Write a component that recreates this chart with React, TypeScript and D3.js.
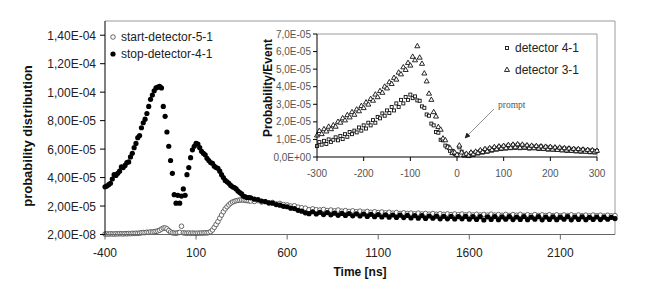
import * as d3 from "d3";

// values in units of 1e-5
// main chart, -400..390 ns in 10 ns bins
const startEarly = [
  0.03, 0.04, 0.03, 0.05, 0.04, 0.03, 0.05, 0.04, 0.06, 0.05,
  0.04, 0.06, 0.05, 0.07, 0.06, 0.08, 0.07, 0.09, 0.08, 0.1,
  0.12, 0.14, 0.13, 0.16, 0.15, 0.18, 0.17, 0.2, 0.22, 0.25,
  0.3, 0.38, 0.45, 0.46, 0.4, 0.28, 0.18, 0.12, 0.1, 0.09,
  0.12, 0.15, 0.58, 0.12, 0.1, 0.09, 0.11, 0.08, 0.1, 0.09,
  0.08, 0.1, 0.09, 0.11, 0.1, 0.12, 0.11, 0.14, 0.2, 0.32,
  0.5, 0.7, 0.9, 1.15, 1.37, 1.6, 1.8, 1.95, 2.08, 2.2,
  2.28, 2.33, 2.37, 2.4, 2.42, 2.43, 2.42, 2.4, 2.38, 2.37,
];
const stopEarly = [
  3.35, 3.4, 3.5, 3.6, 3.9, 4.2, 4.15, 4.3, 4.45, 4.75,
  4.7, 4.85, 5.05, 5.1, 5.45, 5.7, 6.1, 6.4, 6.8, 6.95,
  7.5, 7.85, 8.1, 8.5, 9.0, 9.5, 9.8, 10.1, 10.3, 10.35,
  10.4, 10.3, 9.0, 8.3, 7.2, 6.2, 5.2, 4.3, 2.8, 2.2,
  2.75, 2.2, 2.7, 3.2, 2.75, 4.2, 4.7, 5.4, 5.95, 6.2,
  6.4, 6.35, 6.1, 5.85, 5.7, 5.6, 5.35, 5.2, 5.05, 5.0,
  4.8, 4.7, 4.65, 4.45, 4.2, 4.0, 3.8, 3.7, 3.6, 3.45,
  3.35, 3.3, 3.2, 3.05, 2.95, 2.85, 2.7, 2.65, 2.6, 2.6,
];
// main chart, 400..2400 ns in 20 ns bins
const startTail = [
  2.35, 2.32, 2.38, 2.28, 2.3, 2.22, 2.25, 2.15, 2.18, 2.1,
  2.08, 2.0, 2.02, 1.92, 1.88, 1.85, 1.74, 1.8, 1.74, 1.72,
  1.76, 1.68, 1.72, 1.66, 1.72, 1.64, 1.68, 1.62, 1.66, 1.6,
  1.64, 1.57, 1.62, 1.56, 1.6, 1.54, 1.58, 1.52, 1.56, 1.5,
  1.54, 1.48, 1.52, 1.47, 1.5, 1.45, 1.5, 1.44, 1.48, 1.43,
  1.47, 1.42, 1.46, 1.41, 1.45, 1.4, 1.44, 1.39, 1.44, 1.38,
  1.43, 1.37, 1.42, 1.37, 1.41, 1.36, 1.43, 1.36, 1.4, 1.35,
  1.41, 1.34, 1.4, 1.35, 1.41, 1.34, 1.39, 1.33, 1.4, 1.34,
  1.38, 1.33, 1.39, 1.33, 1.38, 1.32, 1.37, 1.33, 1.38, 1.31,
  1.37, 1.32, 1.36, 1.31, 1.37, 1.32, 1.36, 1.3, 1.35, 1.31,
  1.33,
];
const stopTail = [
  2.58, 2.48, 2.46, 2.35, 2.32, 2.22, 2.2, 2.1, 2.06, 1.98,
  1.95, 1.85, 1.82, 1.7, 1.64, 1.52, 1.46, 1.6, 1.44, 1.56,
  1.4, 1.54, 1.38, 1.5, 1.35, 1.48, 1.34, 1.47, 1.31, 1.45,
  1.3, 1.44, 1.27, 1.42, 1.25, 1.4, 1.23, 1.38, 1.22, 1.37,
  1.2, 1.36, 1.19, 1.34, 1.16, 1.33, 1.15, 1.32, 1.13, 1.3,
  1.14, 1.29, 1.1, 1.28, 1.1, 1.27, 1.09, 1.26, 1.1, 1.27,
  1.07, 1.25, 1.06, 1.25, 1.02, 1.24, 1.06, 1.26, 1.04, 1.24,
  1.07, 1.25, 1.05, 1.23, 1.06, 1.26, 1.04, 1.22, 1.07, 1.25,
  1.03, 1.23, 1.06, 1.24, 1.04, 1.22, 1.07, 1.25, 1.03, 1.23,
  1.06, 1.24, 1.04, 1.21, 1.06, 1.23, 1.05, 1.22, 1.07, 1.21,
  1.12,
];

// inset, -300..300 ns in 5 ns bins
const det41 = [
  0.62, 0.85, 0.7, 0.92, 0.74, 1.0, 0.86, 0.98, 1.12, 0.95,
  1.2, 1.02, 1.3, 1.15, 1.42, 1.3, 1.5, 1.4, 1.68, 1.5,
  1.8, 1.62, 1.95, 1.8, 2.1, 1.95, 2.28, 2.2, 2.48, 2.35,
  2.65, 2.5, 2.85, 2.65, 3.05, 2.85, 3.25, 3.05, 3.42, 3.25,
  3.55, 3.35, 3.45, 3.22, 3.2, 2.88, 2.8, 2.42, 2.35, 1.9,
  1.8, 1.42, 1.38, 0.98, 0.95, 0.65, 0.6, 0.35, 0.35, 0.18,
  0.15, 0.55, 0.3, 0.08, 0.14, 0.05, 0.22, 0.12, 0.28, 0.2,
  0.35, 0.25, 0.42, 0.3, 0.48, 0.36, 0.52, 0.42, 0.58, 0.45,
  0.6, 0.48, 0.65, 0.5, 0.68, 0.52, 0.7, 0.5, 0.66, 0.52,
  0.64, 0.48, 0.62, 0.5, 0.6, 0.46, 0.6, 0.45, 0.58, 0.42,
  0.56, 0.42, 0.52, 0.4, 0.52, 0.38, 0.5, 0.35, 0.48, 0.34,
  0.46, 0.32, 0.44, 0.3, 0.42, 0.3, 0.4, 0.27, 0.38, 0.26,
  0.34,
];
const det31 = [
  1.22, 1.48, 1.3, 1.58, 1.45, 1.72, 1.58, 1.8, 1.72, 2.0,
  1.95, 2.2, 2.08, 2.38, 2.25, 2.55, 2.4, 2.7, 2.6, 2.9,
  2.78, 3.1, 2.98, 3.3, 3.2, 3.55, 3.4, 3.75, 3.65, 4.0,
  3.9, 4.25, 4.15, 4.5, 4.4, 4.8, 4.7, 5.1, 4.95, 5.35,
  5.2, 5.7, 5.5, 6.3, 5.65, 5.3, 4.75, 4.3, 3.6, 3.25,
  2.55, 2.3, 1.7, 1.55, 1.05, 0.95, 0.55, 0.5, 0.22, 0.25,
  0.12, 0.65, 0.25, 0.1, 0.18, 0.06, 0.25, 0.15, 0.3, 0.22,
  0.38, 0.28, 0.45, 0.32, 0.5, 0.4, 0.56, 0.44, 0.6, 0.48,
  0.63, 0.5, 0.68, 0.52, 0.7, 0.55, 0.72, 0.52, 0.7, 0.54,
  0.66, 0.5, 0.64, 0.5, 0.62, 0.48, 0.6, 0.46, 0.58, 0.44,
  0.57, 0.42, 0.54, 0.4, 0.53, 0.38, 0.5, 0.37, 0.48, 0.35,
  0.46, 0.33, 0.45, 0.32, 0.42, 0.3, 0.4, 0.28, 0.38, 0.27,
  0.35,
];

const mainXTicks = [-400, 100, 600, 1100, 1600, 2100];
const mainYTicks = [0, 2, 4, 6, 8, 10, 12, 14];
const mainYLabels = ["2,00E-08", "2,00E-05", "4,00E-05", "6,00E-05", "8,00E-05", "1,00E-04", "1,20E-04", "1,40E-04"];
const insetXTicks = [-300, -200, -100, 0, 100, 200, 300];
const insetYTicks = [0, 1, 2, 3, 4, 5, 6, 7];
const insetYLabels = ["0,0E+00", "1,0E-05", "2,0E-05", "3,0E-05", "4,0E-05", "5,0E-05", "6,0E-05", "7,0E-05"];

const font = "'Liberation Sans', Arial, sans-serif";

function App() {
  const width = 654;
  const height = 301;

  // main plot box
  const left = 105, right = 615, top = 21, bottom = 234.5;
  const x = d3.scaleLinear().domain([-400, 2400]).range([left, right]);
  const y = d3.scaleLinear().domain([0, 15]).range([bottom, top]);

  // inset plot box
  const iLeft = 317, iRight = 597, iTop = 34, iBottom = 157;
  const ix = d3.scaleLinear().domain([-300, 300]).range([iLeft, iRight]);
  const iy = d3.scaleLinear().domain([0, 7]).range([iBottom, iTop]);

  const earlyT = d3.range(-400, 400, 10);
  const tailT = d3.range(400, 2401, 20);
  const insetT = d3.range(-300, 301, 5);

  const startPts = [
    ...startEarly.map((v, i) => [earlyT[i], v]),
    ...startTail.map((v, i) => [tailT[i], v]),
  ];
  const stopPts = [
    ...stopEarly.map((v, i) => [earlyT[i], v]),
    ...stopTail.map((v, i) => [tailT[i], v]),
  ];

  const tri = d3.symbol(d3.symbolTriangle).size(11)();

  return (
    <svg width={width} height={height} style={{ position: "absolute", left: 0, top: 0, background: "#fff" }} fontFamily={font}>
      <rect x={0} y={0} width={width} height={height} fill="#fff" />

      {/* main frame */}
      <line x1={left} x2={right} y1={top} y2={top} stroke="#9a9a9a" />
      <line x1={right} x2={right} y1={top} y2={bottom} stroke="#9a9a9a" />

      {/* main data */}
      <g>
        {startPts.map((d, i) => (
          <circle key={"s" + i} cx={x(d[0])} cy={y(d[1])} r={2.3} fill="#fff" stroke="#444" strokeWidth={0.8} />
        ))}
        {stopPts.map((d, i) => (
          <circle key={"p" + i} cx={x(d[0])} cy={y(d[1])} r={2.6} fill="#000" />
        ))}
      </g>

      {/* main axes */}
      <line x1={left} x2={right} y1={bottom} y2={bottom} stroke="#666" />
      <line x1={left} x2={left} y1={top} y2={bottom} stroke="#000" />
      {mainYTicks.map((t, i) => (
        <g key={"my" + t}>
          <line x1={left - 5} x2={left} y1={y(t)} y2={y(t)} stroke="#000" />
          <text x={96} y={y(t) + 4.5} textAnchor="end" fontSize={12} fill="#222">{mainYLabels[i]}</text>
        </g>
      ))}
      {mainXTicks.map((t) => (
        <g key={"mx" + t}>
          <line x1={x(t)} x2={x(t)} y1={bottom} y2={bottom + 5} stroke="#666" />
          <text x={x(t)} y={257} textAnchor="middle" fontSize={12} fill="#222">{t}</text>
        </g>
      ))}
      <text x={360} y={276} textAnchor="middle" fontSize={12} fontWeight="bold" fill="#111">Time [ns]</text>
      <text transform="translate(32,136) rotate(-90)" textAnchor="middle" fontSize={13} fontWeight="bold" fill="#111">probability distribution</text>

      {/* main legend */}
      <circle cx={113} cy={37} r={2.3} fill="#fff" stroke="#444" strokeWidth={0.8} />
      <text x={121} y={41} fontSize={12} fill="#222">start-detector-5-1</text>
      <circle cx={113} cy={54} r={2.6} fill="#000" />
      <text x={121} y={58} fontSize={12} fill="#222">stop-detector-4-1</text>

      {/* inset */}
      <rect x={258} y={22} width={356} height={160} fill="#fff" />
      <line x1={iLeft} x2={iRight} y1={iTop} y2={iTop} stroke="#9a9a9a" />
      <line x1={iRight} x2={iRight} y1={iTop} y2={iBottom} stroke="#9a9a9a" />
      <g>
        {det41.map((v, i) => (
          <rect key={"a" + i} x={ix(insetT[i]) - 1.5} y={iy(v) - 1.5} width={3} height={3} fill="#fff" stroke="#111" strokeWidth={0.9} />
        ))}
        {det31.map((v, i) => (
          <path key={"b" + i} d={tri} transform={`translate(${ix(insetT[i])},${iy(v)})`} fill="#fff" stroke="#111" strokeWidth={0.9} />
        ))}
      </g>
      <line x1={iLeft} x2={iRight} y1={iBottom} y2={iBottom} stroke="#000" />
      <line x1={iLeft} x2={iLeft} y1={iTop} y2={iBottom} stroke="#000" />
      {insetYTicks.map((t, i) => (
        <g key={"iy" + t}>
          <line x1={iLeft - 4} x2={iLeft} y1={iy(t)} y2={iy(t)} stroke="#000" />
          <text x={311} y={iy(t) + 3.5} textAnchor="end" fontSize={10} fill="#555">{insetYLabels[i]}</text>
        </g>
      ))}
      {insetXTicks.map((t) => (
        <g key={"ix" + t}>
          <line x1={ix(t)} x2={ix(t)} y1={iBottom} y2={iBottom + 4} stroke="#000" />
          <text x={ix(t)} y={177} textAnchor="middle" fontSize={10} fill="#555">{t}</text>
        </g>
      ))}
      <text transform="translate(272,88) rotate(-90)" textAnchor="middle" fontSize={12} fontWeight="bold" fill="#111">Probability/Event</text>

      {/* inset legend */}
      <rect x={505.5} y={46.5} width={3} height={3} fill="#fff" stroke="#111" strokeWidth={0.9} />
      <text x={515} y={52} fontSize={12} fill="#222">detector 4-1</text>
      <path d={tri} transform="translate(507,70)" fill="#fff" stroke="#111" strokeWidth={0.9} />
      <text x={515} y={74} fontSize={12} fill="#222">detector 3-1</text>

      {/* prompt annotation */}
      <defs>
        <marker id="arr" viewBox="0 0 10 10" refX={9} refY={5} markerWidth={7} markerHeight={7} orient="auto">
          <path d="M0,0 L10,5 L0,10 z" fill="#222" />
        </marker>
      </defs>
      <line x1={494} y1={109} x2={465} y2={138} stroke="#777" strokeWidth={0.8} markerEnd="url(#arr)" />
      <text x={498} y={108} fontSize={9.5} fill="#555" fontFamily="'Liberation Serif', serif">prompt</text>
    </svg>
  );
}

export default App;
